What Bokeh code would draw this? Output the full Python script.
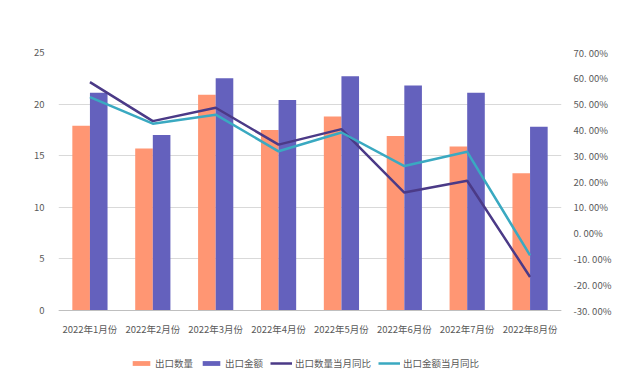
from bokeh.plotting import figure
from bokeh.models import Range1d, LinearAxis, Legend, LegendItem, FixedTicker, CustomJSTickFormatter, ColumnDataSource
from bokeh.transform import dodge
from bokeh.embed import file_html
from bokeh.resources import INLINE

months = ["2022年1月份", "2022年2月份", "2022年3月份", "2022年4月份",
          "2022年5月份", "2022年6月份", "2022年7月份", "2022年8月份"]
qty = [17.9, 15.7, 20.9, 17.5, 18.8, 16.9, 15.9, 13.3]
amt = [21.1, 17.0, 22.5, 20.4, 22.7, 21.8, 21.1, 17.8]
qty_yoy = [58.5, 43.4, 48.6, 34.3, 40.3, 15.7, 20.3, -17.0]
amt_yoy = [52.7, 42.4, 45.9, 31.7, 39.0, 26.0, 31.5, -8.6]
left_ticks = [0, 5, 10, 15, 20, 25]
right_ticks = [-30, -20, -10, 0, 10, 20, 30, 40, 50, 60, 70]

FONT = "Noto Sans CJK SC"
TXT = "#595959"
FS = "9.5px"

# extra room below zero holds the category labels and the legend inside the frame
LOW = -5.91

src = ColumnDataSource(dict(m=months, qty=qty, amt=amt, qy=qty_yoy, ay=amt_yoy))

p = figure(x_range=months, y_range=Range1d(LOW, 25), width=614, height=371,
           output_backend="svg", toolbar_location=None,
           min_border_left=58, min_border_right=46, min_border_top=52, min_border_bottom=0)
p.extra_y_ranges = {"pct": Range1d(-30 + 4 * LOW, 70)}

r1 = p.vbar(x=dodge("m", -0.14, range=p.x_range), top="qty", width=0.28, source=src,
            fill_color="#FF9673", line_color=None)
r2 = p.vbar(x=dodge("m", 0.14, range=p.x_range), top="amt", width=0.28, source=src,
            fill_color="#6461BD", line_color=None)
r3 = p.line(x="m", y="qy", source=src, y_range_name="pct", line_color="#4B3A87", line_width=2.5)
r4 = p.line(x="m", y="ay", source=src, y_range_name="pct", line_color="#3AA9C1", line_width=2.5)

p.outline_line_color = None
p.xgrid.grid_line_color = None
p.ygrid.grid_line_color = "#D9D9D9"
p.ygrid.grid_line_width = 1
p.yaxis.ticker = FixedTicker(ticks=left_ticks)

ax = p.yaxis[0]
ax.axis_line_color = None
ax.major_tick_line_color = None
ax.minor_tick_line_color = None
ax.major_label_text_font = FONT
ax.major_label_text_font_size = FS
ax.major_label_text_color = TXT
ax.major_label_standoff = 8

rax = LinearAxis(y_range_name="pct", ticker=FixedTicker(ticks=right_ticks),
                 formatter=CustomJSTickFormatter(code="return tick.toFixed(2).replace('.', '. ') + '%';"))
rax.axis_line_color = None
rax.major_tick_line_color = None
rax.minor_tick_line_color = None
rax.major_label_text_font = FONT
rax.major_label_text_font_size = FS
rax.major_label_text_color = TXT
rax.major_label_standoff = 6
p.add_layout(rax, "right")

xa = p.xaxis[0]
xa.fixed_location = 0
xa.axis_line_color = "#BFBFBF"
xa.major_tick_line_color = None
xa.minor_tick_line_color = None
xa.major_label_text_font = FONT
xa.major_label_text_font_size = FS
xa.major_label_text_color = TXT
xa.major_label_standoff = 5

p.x_range.range_padding = 0.0

legend = Legend(items=[LegendItem(label="出口数量", renderers=[r1]),
                       LegendItem(label="出口金额", renderers=[r2]),
                       LegendItem(label="出口数量当月同比", renderers=[r3]),
                       LegendItem(label="出口金额当月同比", renderers=[r4])],
                orientation="horizontal", location=(72, 1),
                label_text_font=FONT, label_text_font_size=FS, label_text_color=TXT,
                label_height=12, glyph_width=22, glyph_height=6, label_standoff=3, spacing=7,
                padding=0, margin=0, border_line_color=None, background_fill_alpha=0)
p.add_layout(legend, "center")

open("out.html", "w").write(file_html(p, INLINE))
